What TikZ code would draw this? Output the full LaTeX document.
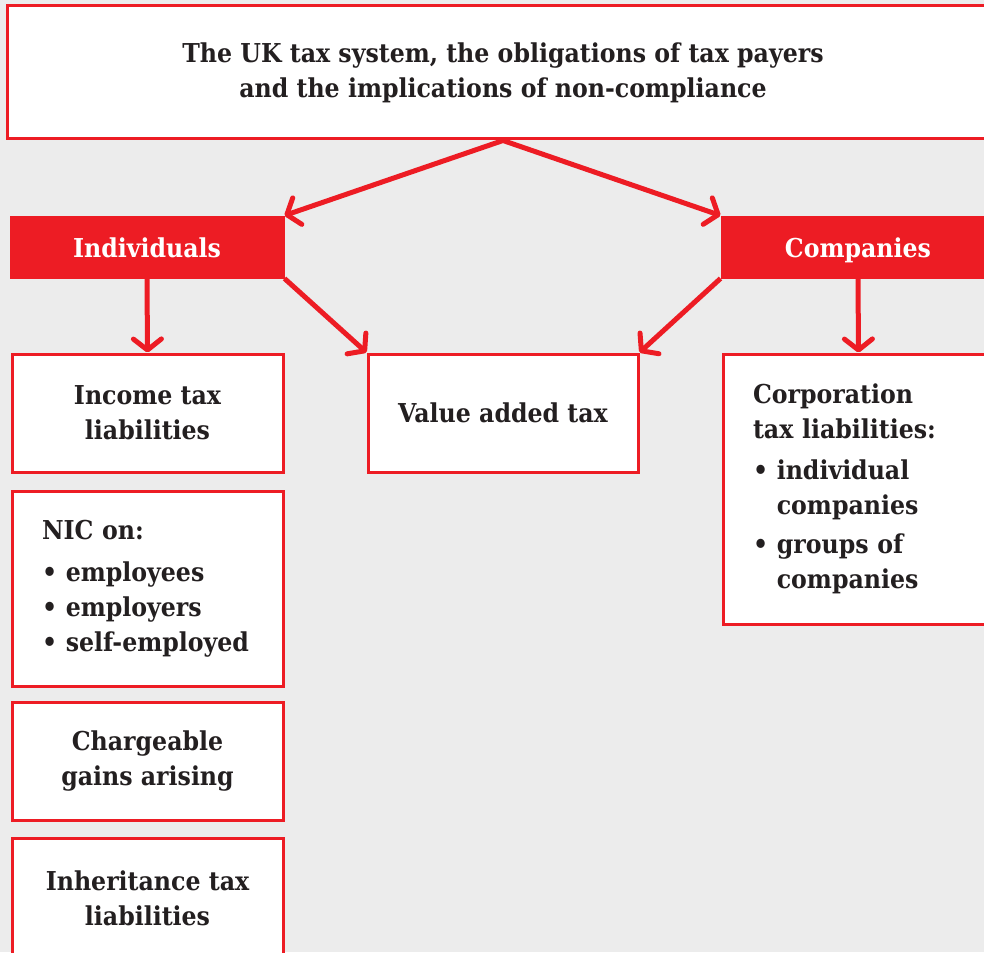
\documentclass[tikz,border=0pt]{standalone}
\usepackage{fontspec}
\setmainfont{DejaVu Serif}[FakeStretch=0.91]
\usetikzlibrary{arrows.meta, positioning}

\definecolor{taxred}{HTML}{ED1C24}
\definecolor{paper}{HTML}{ECECEC}
\definecolor{ink}{HTML}{231F20}

\tikzset{
    box/.style={draw=taxred, line width=3pt, fill=white, text=ink,
        inner sep=0pt, align=center, font=\bfseries\fontsize{26}{35}\selectfont},
    head/.style={box, fill=taxred, text=white, text height=26pt, text depth=6pt},
    list/.style={box, align=left, text width=211pt},
    arr/.style={color=taxred, line width=5pt,
        -{Straight Barb[length=11pt, width=28pt, round]}}
}

\begin{document}
\begin{tikzpicture}[x=1pt, y=-1pt]
    \useasboundingbox (0,0) rectangle (984,952);
    \clip (0,0) rectangle (984,952);
    \fill [paper] (0,0) rectangle (984,952);

    \node (sys) [box, minimum width=992pt, minimum height=133pt] at (503,72.5)
        {The UK tax system, the obligations of tax payers\\
         and the implications of non-compliance};

    \node (indiv) [head, minimum width=272pt, minimum height=60pt] at (147,247) {Individuals};
    \node (comp) [head, minimum width=272pt, minimum height=60pt] at (858,247) {Companies};

    \node (income) [box, minimum width=271pt, minimum height=118pt] at (147.5,413)
        {Income tax\\ liabilities};
    \node (vat) [box, minimum width=270pt, minimum height=118pt] at (503,413)
        {Value added tax};
    \node (corp) [list, minimum width=271pt, minimum height=270pt] at (858.5,489)
        {Corporation\\ tax liabilities:\\[6pt]
         • individual\\ \hphantom{• }companies\\[4pt]
         • groups of\\ \hphantom{• }companies};
    \node (nic) [list, minimum width=271pt, minimum height=195pt] at (147.5,589)
        {NIC on:\\[7pt] • employees\\ • employers\\ • self-employed};
    \node (gains) [box, minimum width=271pt, minimum height=118pt] at (147.5,761)
        {Chargeable\\ gains arising};
    \node (inher) [box, minimum width=271pt, minimum height=120pt] at (147.5,898)
        {Inheritance tax\\ liabilities};

    \path [arr]
        (sys.south) edge (indiv.north east)
        (sys.south) edge (comp.north west)
        (indiv.south) edge (income.north)
        (indiv.south east) edge (vat.north west)
        (comp.south west) edge (vat.north east)
        (comp.south) edge (corp.north);
\end{tikzpicture}
\end{document}
